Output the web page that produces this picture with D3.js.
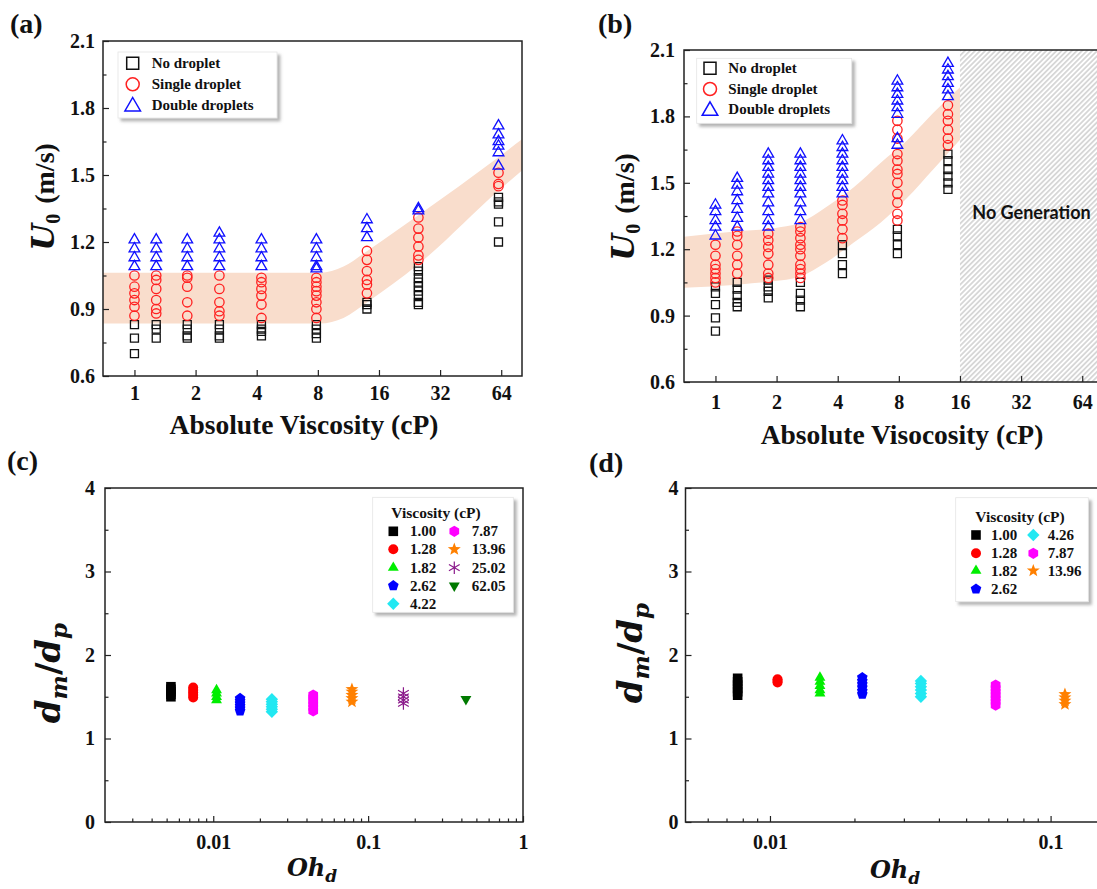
<!DOCTYPE html>
<html><head><meta charset="utf-8">
<script src="https://cdn.jsdelivr.net/npm/d3@7"></script>
<style>
body{margin:0;background:#fff;}
svg{display:block;}
svg text{font-family:"Liberation Serif","DejaVu Serif",serif;}
svg text.math, svg text .math{font-family:"DejaVu Serif",serif;}
svg text.sans{font-family:Lato,"Open Sans",sans-serif;}
</style></head>
<body>
<svg id="fig" width="1097" height="889"></svg>
<script>
// ---------- panel (a): generation regime vs. viscosity ----------
const viscA = [1.00, 1.28, 1.82, 2.62, 4.22, 7.87, 13.96, 25.02, 62.05];
const noDropletA = [
  [0.83, 0.77, 0.70],
  [0.83, 0.81, 0.77],
  [0.83, 0.81, 0.78, 0.77],
  [0.83, 0.81, 0.78, 0.77],
  [0.83, 0.81, 0.80, 0.78],
  [0.83, 0.81, 0.79, 0.77],
  [0.93, 0.92, 0.90],
  [1.09, 1.07, 1.04, 1.02, 1.00, 0.98, 0.96, 0.93, 0.92],
  [1.40, 1.38, 1.37, 1.29, 1.20]
];
const singleA = [
  [1.05, 1.00, 0.97, 0.94, 0.91, 0.87],
  [1.05, 1.03, 0.99, 0.94, 0.90, 0.88],
  [1.05, 1.04, 1.00, 0.93, 0.87],
  [1.05, 0.99, 0.93, 0.89, 0.87],
  [1.04, 1.02, 0.99, 0.96, 0.92, 0.86],
  [1.04, 1.02, 1.00, 0.98, 0.96, 0.93, 0.90, 0.86],
  [1.16, 1.12, 1.07, 1.03, 1.01, 0.97],
  [1.31, 1.26, 1.22, 1.18, 1.14, 1.12],
  [1.51, 1.46, 1.45]
];
const doubleA = [
  [1.21, 1.17, 1.13, 1.09],
  [1.21, 1.17, 1.13, 1.09],
  [1.21, 1.17, 1.13, 1.09],
  [1.24, 1.21, 1.17, 1.13, 1.09],
  [1.21, 1.17, 1.13, 1.09],
  [1.21, 1.17, 1.13, 1.09, 1.08],
  [1.30, 1.26, 1.22],
  [1.35, 1.34],
  [1.72, 1.68, 1.65, 1.63, 1.60, 1.54]
];
const bandViscA  = [0.7, 8.2, 10.7, 14, 25, 62, 81];
const bandUpperA = [1.062, 1.062, 1.09, 1.16, 1.32, 1.58, 1.66];
const bandLowerA = [0.835, 0.835, 0.86, 0.93, 1.10, 1.43, 1.52];

// ---------- panel (b) ----------
const viscB = [1.00, 1.28, 1.82, 2.62, 4.22, 7.87, 13.96];
const noDropletB = [
  [1.03, 1.00, 0.95, 0.89, 0.83],
  [1.05, 1.02, 0.99, 0.96, 0.94],
  [1.06, 1.03, 1.01, 0.98],
  [1.05, 1.00, 0.97, 0.94],
  [1.22, 1.18, 1.13, 1.09],
  [1.29, 1.26, 1.22, 1.18],
  [1.63, 1.60, 1.56, 1.53, 1.50, 1.47]
];
const singleB = [
  [1.22, 1.17, 1.13, 1.11, 1.09, 1.07, 1.05],
  [1.28, 1.26, 1.22, 1.17, 1.13, 1.09],
  [1.27, 1.24, 1.21, 1.18, 1.13, 1.09, 1.07],
  [1.30, 1.28, 1.25, 1.22, 1.20, 1.17, 1.13, 1.11, 1.09, 1.07],
  [1.42, 1.40, 1.36, 1.33, 1.29, 1.25],
  [1.78, 1.74, 1.70, 1.63, 1.60, 1.56, 1.54, 1.50, 1.45, 1.41, 1.36, 1.33],
  [1.85, 1.81, 1.78, 1.74, 1.70, 1.67]
];
const doubleB = [
  [1.40, 1.37, 1.33, 1.30, 1.26],
  [1.52, 1.49, 1.46, 1.42, 1.38, 1.34, 1.30],
  [1.63, 1.60, 1.57, 1.54, 1.51, 1.48, 1.45, 1.41, 1.37, 1.33, 1.30],
  [1.63, 1.60, 1.57, 1.54, 1.51, 1.48, 1.45, 1.41, 1.37, 1.33],
  [1.69, 1.66, 1.63, 1.60, 1.57, 1.54, 1.51, 1.48, 1.45],
  [1.96, 1.93, 1.90, 1.87, 1.84, 1.81, 1.70, 1.67],
  [2.04, 2.01, 1.98, 1.95, 1.92, 1.89]
];
const bandViscB  = [0.7, 1.32, 1.92, 2.6, 3.5, 4.8, 6.5, 8.75, 11.8, 16];
const bandUpperB = [1.256, 1.282, 1.294, 1.319, 1.39, 1.48, 1.59, 1.69, 1.815, 1.932];
const bandLowerB = [1.026, 1.041, 1.055, 1.076, 1.14, 1.23, 1.32, 1.43, 1.56, 1.695];
const noGenerationFrom = 16;

const viscTicks = [1, 2, 4, 8, 16, 32, 64];
const speedTicks = [0.6, 0.9, 1.2, 1.5, 1.8, 2.1];
const speedMinor = [0.75, 1.05, 1.35, 1.65, 1.95];
const stateLabels = ["No droplet", "Single droplet", "Double droplets"];

// ---------- panel (c): size ratio vs. Ohnesorge number ----------
const viscLabelsC = ["1.00", "1.28", "1.82", "2.62", "4.22", "7.87", "13.96", "25.02", "62.05"];
const ohC = [0.00533, 0.00742, 0.0105, 0.0149, 0.0239, 0.0442, 0.0786, 0.169, 0.428];
const ratioC = [
  [1.50, 1.53, 1.56, 1.59, 1.62],
  [1.49, 1.52, 1.55, 1.58, 1.61],
  [1.46, 1.50, 1.54, 1.58],
  [1.33, 1.36, 1.39, 1.42, 1.45, 1.48],
  [1.32, 1.35, 1.38, 1.41, 1.44, 1.47],
  [1.33, 1.37, 1.41, 1.45, 1.49, 1.52],
  [1.44, 1.48, 1.52, 1.56, 1.59],
  [1.42, 1.46, 1.50, 1.54],
  [1.47]
];

// ---------- panel (d) ----------
const viscLabelsD = ["1.00", "1.28", "1.82", "2.62", "4.26", "7.87", "13.96"];
const ohD = [0.00767, 0.01064, 0.01507, 0.02133, 0.0345, 0.0637, 0.1125];
const ratioD = [
  [1.52, 1.56, 1.60, 1.64, 1.68, 1.72],
  [1.67, 1.69, 1.71],
  [1.54, 1.58, 1.63, 1.68, 1.73],
  [1.53, 1.57, 1.61, 1.65, 1.69, 1.73],
  [1.50, 1.54, 1.58, 1.62, 1.66, 1.69],
  [1.40, 1.44, 1.48, 1.52, 1.56, 1.60, 1.64],
  [1.41, 1.45, 1.49, 1.53]
];
const ratioTicks = [0, 1, 2, 3, 4];
const ratioMinor = [0.5, 1.5, 2.5, 3.5];

// marker styles per viscosity series (c, d)
const seriesShapes = ["square", "circle", "triUp", "pentagon", "diamond", "hexagon", "star", "asterisk", "triDown"];
const seriesColors = ["#000000", "#ff0000", "#00ee00", "#0000ff", "#22e8f2", "#ff00ff", "#ff8000", "#8b1a8b", "#007a00"];

// ---------- helpers ----------
const ink = "#222";

function polygon(n, r, startDeg) {
  const pts = d3.range(n).map(i => {
    const a = (startDeg + i * 360 / n) * Math.PI / 180;
    return [r * Math.cos(a), r * Math.sin(a)];
  });
  return "M" + pts.map(p => p[0].toFixed(2) + "," + p[1].toFixed(2)).join("L") + "Z";
}
function starPath(r) {
  const pts = d3.range(10).map(i => {
    const a = (-90 + i * 36) * Math.PI / 180, rr = i % 2 ? r * 0.42 : r;
    return [rr * Math.cos(a), rr * Math.sin(a)];
  });
  return "M" + pts.map(p => p[0].toFixed(2) + "," + p[1].toFixed(2)).join("L") + "Z";
}
function shapePath(kind, r) {
  switch (kind) {
    case "square": return `M${-r},${-r}H${r}V${r}H${-r}Z`;
    case "circle": return `M${r},0A${r},${r} 0 1,1 ${-r},0A${r},${r} 0 1,1 ${r},0Z`;
    case "triUp": return polygon(3, r, -90);
    case "triDown": return polygon(3, r, 90);
    case "pentagon": return polygon(5, r, -90);
    case "hexagon": return polygon(6, r, -90);
    case "diamond": return polygon(4, r, -90);
    case "star": return starPath(r);
    case "asterisk": {
      let d = "";
      [90, 30, 150].forEach(deg => {
        const a = deg * Math.PI / 180, dx = r * Math.cos(a), dy = r * Math.sin(a);
        d += `M${(-dx).toFixed(2)},${(-dy).toFixed(2)}L${dx.toFixed(2)},${dy.toFixed(2)}`;
      });
      return d;
    }
  }
}
function drawMarker(g, kind, color, r, cx, cy, hollow) {
  const p = g.append("path").attr("d", shapePath(kind, r))
    .attr("transform", `translate(${cx},${cy})`);
  if (hollow || kind === "asterisk") {
    p.attr("fill", "none").attr("stroke", color).attr("stroke-width", kind === "asterisk" ? 1.2 : 1.3);
  } else {
    p.attr("fill", color).attr("stroke", "none");
  }
  return p;
}

const svg = d3.select("#fig");
const defs = svg.append("defs");
const shadow = defs.append("filter").attr("id", "shadow")
  .attr("x", "-10%").attr("y", "-10%").attr("width", "125%").attr("height", "130%");
shadow.append("feDropShadow").attr("dx", 3).attr("dy", 3).attr("stdDeviation", 1.8)
  .attr("flood-color", "#777").attr("flood-opacity", 0.55);
const hatch = defs.append("pattern").attr("id", "hatch").attr("patternUnits", "userSpaceOnUse")
  .attr("width", 3.6).attr("height", 3.6).attr("patternTransform", "rotate(45)");
hatch.append("rect").attr("width", 3.6).attr("height", 3.6).attr("fill", "#fff");
hatch.append("line").attr("x1", 1.8).attr("y1", 0).attr("x2", 1.8).attr("y2", 3.6)
  .attr("stroke", "#a4a4a4").attr("stroke-width", 0.8);

function clipFor(id, x0, y0, x1, y1) {
  defs.append("clipPath").attr("id", id).append("rect")
    .attr("x", x0).attr("y", y0).attr("width", x1 - x0).attr("height", y1 - y0);
  return `url(#${id})`;
}

function styleTickText(sel, size) {
  sel.attr("font-family", null);
  sel.selectAll("text").attr("font-weight", "bold")
    .attr("font-size", size).attr("fill", "#111");
}
function yAxis(y, left, major, minor, pad, fmt) {
  svg.append("g").attr("transform", `translate(${left},0)`).attr("color", ink)
    .call(d3.axisLeft(y).tickValues(minor).tickSize(-3.5).tickFormat(""))
    .call(s => s.select(".domain").remove())
    .call(s => s.selectAll("line").attr("stroke-width", 1.2));
  svg.append("g").attr("transform", `translate(${left},0)`).attr("color", ink)
    .call(d3.axisLeft(y).tickValues(major).tickSize(-6).tickPadding(pad).tickFormat(fmt))
    .call(s => s.select(".domain").remove())
    .call(s => s.selectAll("line").attr("stroke-width", 1.2))
    .call(s => styleTickText(s, 20));
}
function xAxis(x, bottom, major, minor, pad, fmt) {
  if (minor.length) {
    svg.append("g").attr("transform", `translate(0,${bottom})`).attr("color", ink)
      .call(d3.axisBottom(x).tickValues(minor).tickSize(-3.5).tickFormat(""))
      .call(s => s.select(".domain").remove())
      .call(s => s.selectAll("line").attr("stroke-width", 1.2));
  }
  svg.append("g").attr("transform", `translate(0,${bottom})`).attr("color", ink)
    .call(d3.axisBottom(x).tickValues(major).tickSize(-6).tickPadding(pad).tickFormat(fmt))
    .call(s => s.select(".domain").remove())
    .call(s => s.selectAll("line").attr("stroke-width", 1.2))
    .call(s => styleTickText(s, 20));
}
function frame(x0, y0, x1, y1) {
  svg.append("rect").attr("x", x0).attr("y", y0).attr("width", x1 - x0).attr("height", y1 - y0)
    .attr("fill", "none").attr("stroke", ink).attr("stroke-width", 1.5);
}
function legendBox(x0, y0, x1, y1) {
  svg.append("rect").attr("x", x0).attr("y", y0).attr("width", x1 - x0).attr("height", y1 - y0)
    .attr("fill", "#fff").attr("stroke", "#e4e4e4").attr("stroke-width", 0.8)
    .attr("filter", "url(#shadow)");
}
function label(x, y, txt, size, anchor) {
  return svg.append("text").attr("x", x).attr("y", y)
    .attr("font-weight", "bold").attr("font-size", size).attr("fill", "#111")
    .attr("text-anchor", anchor || "start").text(txt);
}
function speedTitle(cx, cy) {
  const t = svg.append("text").attr("transform", `translate(${cx},${cy}) rotate(-90)`)
    .attr("text-anchor", "middle").attr("font-weight", "bold").attr("fill", "#111");
  t.append("tspan").attr("class", "math").attr("font-style", "italic").attr("font-size", 31).text("U");
  t.append("tspan").attr("font-size", 20).attr("dy", 6).text("0");
  t.append("tspan").attr("font-size", 28).attr("dy", -6).attr("dx", 10).text("(m/s)");
}
function ratioTitle(cx, cy) {
  const t = svg.append("text").attr("class", "math").attr("transform", `translate(${cx},${cy}) rotate(-90)`)
    .attr("text-anchor", "middle").attr("font-weight", "bold")
    .attr("font-style", "italic").attr("fill", "#111");
  t.append("tspan").attr("font-size", 34).text("d");
  t.append("tspan").attr("font-size", 23).attr("dy", 7).text("m");
  t.append("tspan").attr("font-size", 34).attr("dy", -7).attr("font-style", "normal").text("/");
  t.append("tspan").attr("font-size", 34).text("d");
  t.append("tspan").attr("font-size", 23).attr("dy", 7).text("p");
}
function ohTitle(cx, base) {
  const t = svg.append("text").attr("class", "math").attr("x", cx).attr("y", base).attr("text-anchor", "middle")
    .attr("font-weight", "bold").attr("font-style", "italic").attr("fill", "#111");
  t.append("tspan").attr("font-size", 24).text("Oh");
  t.append("tspan").attr("font-size", 17).attr("dy", 6).text("d");
}

// ---------- regime panels (a), (b) ----------
function regimePanel(p) {
  const x = d3.scaleLog().base(2).domain([0.7, 81]).range([p.left, p.left + 419]);
  const y = d3.scaleLinear().domain([0.6, 2.1]).range([p.bottom, p.top]);
  const clip = clipFor(p.id, p.left, p.top, p.left + 419, p.bottom);

  const band = d3.area().curve(d3.curveMonotoneX)
    .x((d, i) => x(p.bandVisc[i])).y0((d, i) => y(p.bandLower[i])).y1((d, i) => y(p.bandUpper[i]));
  svg.append("path").attr("clip-path", clip).attr("d", band(p.bandVisc))
    .attr("fill", "#f9ddcc");

  if (p.hatchFrom) {
    svg.append("rect").attr("x", x(p.hatchFrom)).attr("y", p.top)
      .attr("width", p.left + 419 - x(p.hatchFrom)).attr("height", p.bottom - p.top)
      .attr("fill", "url(#hatch)");
    svg.append("text").attr("class", "sans").attr("x", (x(p.hatchFrom) + 1097) / 2 + 3).attr("y", 219)
      .attr("text-anchor", "middle")
      .attr("font-weight", "bold").attr("font-size", 18).attr("fill", "#111").text("No Generation");
  }

  const gm = svg.append("g").attr("clip-path", clip);
  const states = [
    {lists: p.none, kind: "square", color: "#111", r: 4},
    {lists: p.single, kind: "circle", color: "#ff2020", r: 4.7},
    {lists: p.dbl, kind: "triUp", color: "#1010ff", r: 6.2}
  ];
  states.forEach(s => {
    p.visc.forEach((v, i) => s.lists[i].forEach(val =>
      drawMarker(gm, s.kind, s.color, s.r, x(v), y(val), true)));
  });

  frame(p.left, p.top, p.left + 419, p.bottom);
  yAxis(y, p.left, speedTicks, speedMinor, p.ypad, d3.format(".1f"));
  xAxis(x, p.bottom, viscTicks, [], p.xpad, d3.format("d"));

  legendBox(p.lg.x0, p.lg.y0, p.lg.x1, p.lg.y1);
  const lgShapes = [["square", "#111", 6], ["circle", "#ff2020", 6.5], ["triUp", "#1010ff", 9]];
  lgShapes.forEach((s, i) => {
    drawMarker(svg, s[0], s[1], s[2], p.lg.mx, p.lg.rows[i] + (s[0] === "triUp" ? 1.5 : 0), true)
      .attr("stroke-width", 1.5);
    label(p.lg.tx, p.lg.rows[i] + 5, stateLabels[i], 15);
  });

  label(p.titleX, p.titleY, p.title, 27.5, "middle");
  speedTitle(p.yTitleX, p.yTitleY);
  label(p.tagX, 33, p.tag, 28);
}

regimePanel({
  id: "clipA", left: 103, top: 41, bottom: 376, ypad: 8, xpad: 10,
  visc: viscA, none: noDropletA, single: singleA, dbl: doubleA,
  bandVisc: bandViscA, bandUpper: bandUpperA, bandLower: bandLowerA,
  lg: {x0: 118, y0: 52, x1: 277, y1: 118, mx: 132.7, tx: 151.7, rows: [63.3, 84.3, 105]},
  title: "Absolute Viscosity (cP)", titleX: 304, titleY: 434,
  yTitleX: 54, yTitleY: 197, tag: "(a)", tagX: 10
});
regimePanel({
  id: "clipB", left: 684, top: 50, bottom: 382, ypad: 9, xpad: 13,
  visc: viscB, none: noDropletB, single: singleB, dbl: doubleB,
  bandVisc: bandViscB, bandUpper: bandUpperB, bandLower: bandLowerB,
  hatchFrom: noGenerationFrom,
  lg: {x0: 696.7, y0: 58.3, x1: 851.7, y1: 123.3, mx: 710, tx: 728.3, rows: [68.3, 89, 109.3]},
  title: "Absolute Visocosity (cP)", titleX: 902, titleY: 444,
  yTitleX: 634, yTitleY: 207, tag: "(b)", tagX: 598
});

// ---------- size-ratio panels (c), (d) ----------
const markerR = {square: 4.8, circle: 5, triUp: 6.3, pentagon: 5.6, diamond: 6.2, hexagon: 5.6, star: 6.8, asterisk: 6.2, triDown: 6.3};

function ratioPanel(p) {
  const x = d3.scaleLog().domain(p.xDomain).range([p.left, p.right]);
  const y = d3.scaleLinear().domain([0, 4]).range([822, 488]);
  const clip = clipFor(p.id, p.left, 488, p.right, 822);
  const gm = svg.append("g").attr("clip-path", clip);
  p.oh.forEach((o, i) => p.ratio[i].forEach(val =>
    drawMarker(gm, seriesShapes[i], seriesColors[i], markerR[seriesShapes[i]], x(o), y(val), false)));

  frame(p.left, 488, p.right, 822);
  yAxis(y, p.left, ratioTicks, ratioMinor, p.ypad, d3.format("d"));
  xAxis(x, 822, p.xMajor, p.xMinor, 13, d => d >= 1 ? "1" : d3.format("~g")(d));

  legendBox(p.lg.x0, p.lg.y0, p.lg.x1, p.lg.y1);
  label(p.lg.titleX, p.lg.titleY, "Viscosity (cP)", 15.5, "middle");
  p.labels.forEach((lab, i) => {
    const col = i < p.lg.perCol ? 0 : 1, row = col ? i - p.lg.perCol : i;
    const kind = seriesShapes[i], ry = p.lg.rows[row];
    drawMarker(svg, kind, seriesColors[i], markerR[kind], p.lg.mx[col], ry, false);
    label(p.lg.tx[col], ry + 5, lab, 15);
  });

  ohTitle(p.ohX, p.ohY);
  ratioTitle(p.rX, p.rY);
  label(p.tagX, p.tagY, p.tag, 28);
}

ratioPanel({
  id: "clipC", left: 105, right: 523, xDomain: [0.002, 1], ypad: 10,
  xMajor: [0.01, 0.1, 1],
  xMinor: [0.003, 0.004, 0.005, 0.006, 0.007, 0.008, 0.009, 0.02, 0.03, 0.04, 0.05, 0.06, 0.07, 0.08, 0.09,
           0.2, 0.3, 0.4, 0.5, 0.6, 0.7, 0.8, 0.9],
  oh: ohC, ratio: ratioC, labels: viscLabelsC,
  lg: {x0: 372.7, y0: 497.3, x1: 513.3, y1: 612.3, titleX: 436, titleY: 518, perCol: 5,
       mx: [393.3, 454.3], tx: [410, 471.7], rows: [531.3, 549.3, 567.7, 585.7, 603.7]},
  ohX: 312, ohY: 876, rX: 60, rY: 673, tag: "(c)", tagX: 7, tagY: 470
});
ratioPanel({
  id: "clipD", left: 685.5, right: 1100, xDomain: [0.005, 0.15], ypad: 7,
  xMajor: [0.01, 0.1],
  xMinor: [0.006, 0.007, 0.008, 0.009, 0.02, 0.03, 0.04, 0.05, 0.06, 0.07, 0.08, 0.09],
  oh: ohD, ratio: ratioD, labels: viscLabelsD,
  lg: {x0: 955.7, y0: 497.7, x1: 1088.3, y1: 601.7, titleX: 1020, titleY: 522, perCol: 4,
       mx: [976, 1033.3], tx: [991, 1047.7], rows: [535, 553.3, 570.7, 589]},
  ohX: 895, ohY: 878, rX: 642, rY: 653, tag: "(d)", tagX: 589, tagY: 472
});
</script>
</body></html>
